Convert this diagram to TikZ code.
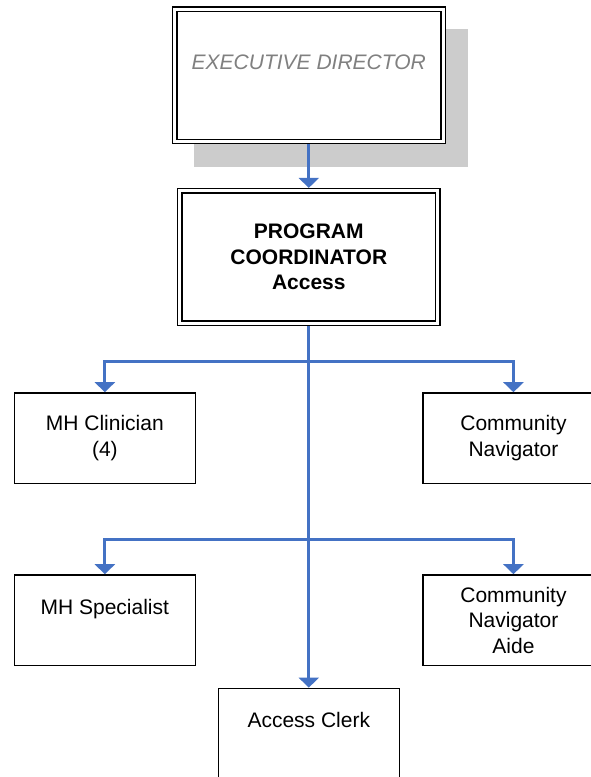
\documentclass[tikz,border=0pt]{standalone}
\usepackage{fontspec}
\setmainfont{Liberation Sans}
\usetikzlibrary{arrows.meta}
\definecolor{linkblue}{RGB}{68,114,196}
\definecolor{shadowgray}{RGB}{204,204,204}
\begin{document}
\begin{tikzpicture}[x=1pt,y=-1pt,
    post/.style={draw,line width=1.5pt,minimum width=181pt,minimum height=90.4pt,
      inner sep=0pt,align=center,font=\fontsize{21}{25.5}\selectfont},
    head/.style={post,fill=white,double,double distance=3pt,line width=1.4pt,outer sep=2.9pt},
    link/.style={draw=linkblue,line width=3pt,-{Triangle[width=20pt,length=10pt]}}]
  \useasboundingbox (0,0) rectangle (590,777);
  \fill[shadowgray] (194.3,29.3) rectangle (468.3,166.7);
  \node[head,minimum width=268.4pt,minimum height=132.3pt,text=gray,
    font=\fontsize{21}{25.5}\selectfont\itshape] (exec) at (308.8,75.35) {EXECUTIVE DIRECTOR\\[-6pt]\strut};
  \node[head,minimum width=257.7pt,minimum height=132.4pt,
    font=\fontsize{21}{25.5}\selectfont\bfseries] (coord) at (308.8,257) {PROGRAM\\COORDINATOR\\Access};
  \node[post] (clin) at (104.85,438.15) {MH Clinician\\(4)};
  \node[post] (nav) at (513.45,438.15) {Community\\Navigator};
  \node[post] (spec) at (104.85,620.15) {MH Specialist\\[-6pt]\strut};
  \node[post] (aide) at (513.45,620.15) {Community\\Navigator\\Aide};
  \node[post] (clerk) at (308.8,733.55) {Access Clerk\\[-6pt]\strut};
  \coordinate (fork1) at (308.8,361);
  \coordinate (fork2) at (308.8,539);
  \draw[link] (exec) -- (coord);
  \draw[link] (coord) -- (clerk);
  \draw[link] (fork1) -| (clin);
  \draw[link] (fork1) -| (nav);
  \draw[link] (fork2) -| (spec);
  \draw[link] (fork2) -| (aide);
\end{tikzpicture}
\end{document}
